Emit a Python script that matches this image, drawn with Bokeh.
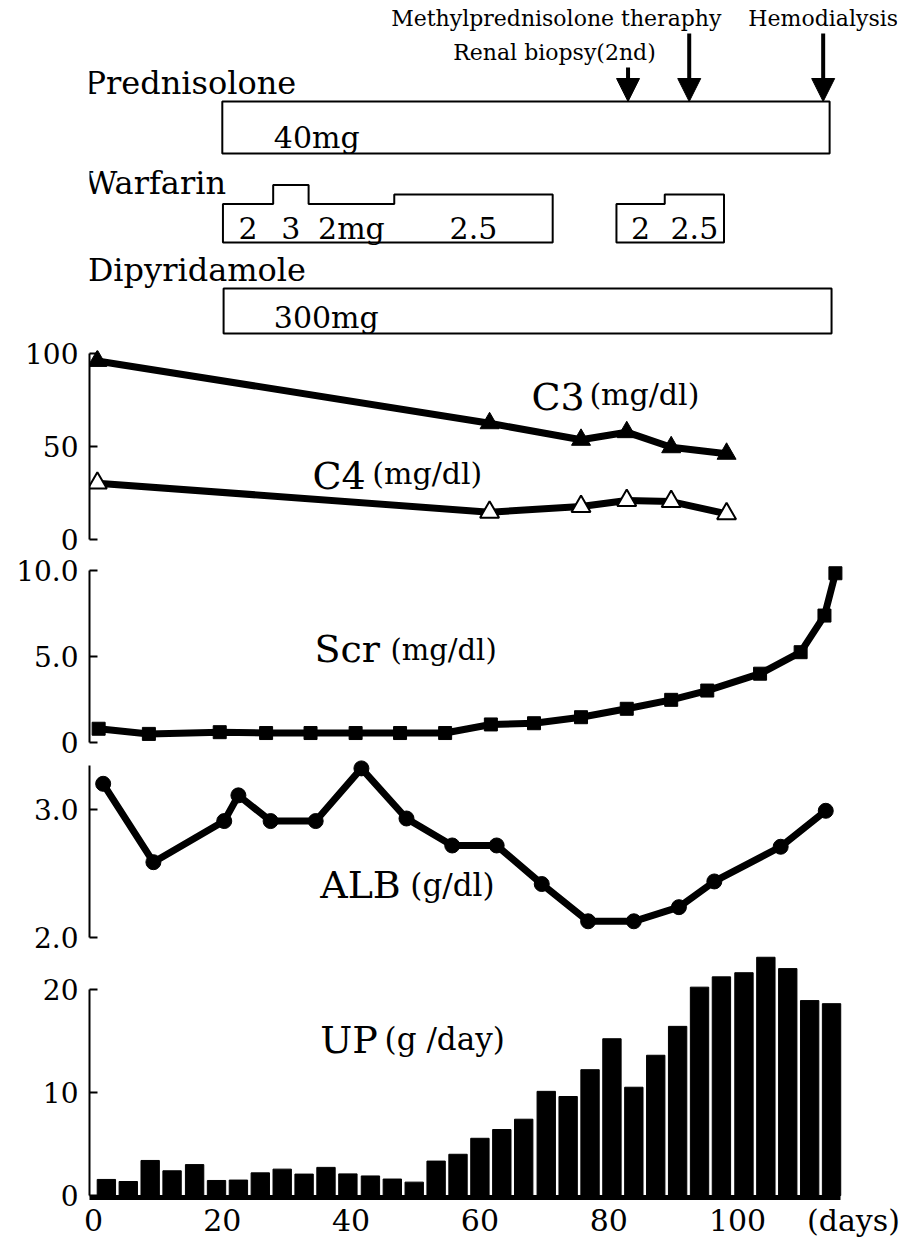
from bokeh.plotting import figure
from bokeh.layouts import column
from bokeh.models import Range1d, FixedTicker, ColumnDataSource, Arrow, NormalHead, Label
from bokeh.core.properties import value
from bokeh.embed import file_html
from bokeh.resources import INLINE

# ---------------- DATA (days since start) ----------------
pred_start, pred_end = 20.0, 114.3
dipy_start, dipy_end = 20.2, 114.6
pred_dose_label = "40mg"
dipy_dose_label = "300mg"

warf_start = [20.1, 27.9, 33.4, 46.7, 81.2, 88.7]
warf_end = [27.9, 33.4, 46.7, 71.3, 88.7, 97.9]
warf_dose = [2, 3, 2, 2.5, 2, 2.5]
warf_label = ["2", "3", "2mg", "2.5", "2", "2.5"]

event_names = ["Renal biopsy(2nd)", "Methylprednisolone theraphy", "Hemodialysis"]
event_days = [83.0, 92.5, 113.3]

comp_days = [0.6, 61.5, 75.7, 82.8, 89.7, 98.3]
c3 = [96.0, 62.5, 53.6, 57.7, 49.6, 46.1]
c4 = [30.3, 14.7, 17.7, 21.0, 20.4, 13.8]

scr_days = [0.8, 8.6, 19.6, 26.8, 33.7, 40.7, 47.6, 54.6, 61.7, 68.4, 75.7, 82.8,
            89.7, 95.3, 103.5, 109.8, 113.5, 115.2]
scr = [0.8, 0.5, 0.6, 0.55, 0.55, 0.55, 0.55, 0.55, 1.05, 1.12, 1.47, 1.96,
       2.48, 3.02, 4.0, 5.25, 7.38, 9.84]

alb_days = [1.5, 9.3, 20.3, 22.5, 27.5, 34.5, 41.6, 48.6, 55.7, 62.6, 69.6, 76.8,
            83.9, 90.9, 96.4, 106.7, 113.7]
alb = [3.20, 2.59, 2.91, 3.11, 2.91, 2.91, 3.32, 2.93, 2.72, 2.72, 2.42, 2.13,
       2.13, 2.24, 2.44, 2.71, 2.99]

up_days = [2.0, 5.4, 8.8, 12.2, 15.7, 19.1, 22.5, 25.9, 29.3, 32.7, 36.1, 39.5,
           43.0, 46.4, 49.8, 53.2, 56.6, 60.0, 63.4, 66.8, 70.3, 73.7, 77.1, 80.5,
           83.9, 87.3, 90.7, 94.1, 97.5, 101.0, 104.4, 107.8, 111.2, 114.6]
up = [1.56, 1.36, 3.4, 2.4, 3.0, 1.46, 1.5, 2.2, 2.56, 2.08, 2.73, 2.1,
      1.9, 1.6, 1.3, 3.34, 4.0, 5.55, 6.4, 7.4, 10.1, 9.6, 12.2, 15.2,
      10.5, 13.6, 16.4, 20.2, 21.2, 21.6, 23.1, 22.0, 18.9, 18.6]

x_ticks = [0, 20, 40, 60, 80, 100]
days_label_pos = 118

# ---------------- LAYOUT ----------------
FONT_NAME = "DejaVu Serif"
FONT = value(FONT_NAME)
W = 903
BL, BR = 89, 6
X_START, X_END = -0.621, 124.84
xr = Range1d(X_START, X_END)


def fig(height, y_range, mbt, mbb, x_axis=None, y_axis="left"):
    p = figure(width=W, height=height, x_range=xr, y_range=y_range,
               output_backend="svg", toolbar_location=None,
               x_axis_location=x_axis, y_axis_location=y_axis,
               min_border_left=BL, min_border_right=BR,
               min_border_top=mbt, min_border_bottom=mbb,
               background_fill_color="white", border_fill_color="white",
               outline_line_color=None)
    p.xgrid.visible = False
    p.ygrid.visible = False
    return p


def style_y(p, ticks, bounds, overrides=None):
    ax = p.yaxis[0]
    ax.ticker = FixedTicker(ticks=ticks, minor_ticks=[])
    ax.bounds = bounds
    ax.axis_line_width = 2
    ax.axis_line_color = "black"
    ax.major_tick_line_width = 2
    ax.major_tick_in = 8
    ax.major_tick_out = 0
    ax.minor_tick_in = 0
    ax.minor_tick_out = 0
    ax.major_label_standoff = 11
    ax.major_label_text_font = FONT_NAME
    ax.major_label_text_font_size = "28px"
    ax.major_label_text_color = "black"
    if overrides:
        ax.major_label_overrides = overrides


def text(p, x, y, txt, size, align="left"):
    p.text(x=[x], y=[y], text=[txt], text_font=FONT, text_font_size=size,
           text_align=align, text_baseline="middle", text_color="black")


def note(p, x, y, txt, size, align="left"):
    p.add_layout(Label(x=x, y=y, text=txt, text_font=FONT_NAME, text_font_size=size,
                       text_align=align, text_baseline="middle", text_color="black"))


# ---------------- TIMELINE ----------------
TL_H = 336
pt = fig(TL_H, Range1d(TL_H, 0), 0, 0, x_axis=None, y_axis=None)

EV_MID = [51.5, 17.5, 17.5]
EV_OFF = [4.3, 5.0, 0.0]
EV_ALIGN = ["right", "right", "center"]
PRED_TOP, PRED_BOT = 101, 153
WARF_BOT, WARF_K, WARF_C = 242, 19.0, 0.5
DIPY_TOP, DIPY_BOT = 288, 333
NAME_X = -1.4

for name, d, m, off, al in zip(event_names, event_days, EV_MID, EV_OFF, EV_ALIGN):
    note(pt, d + off, m, name, "22px", al)
arrow_src = ColumnDataSource(dict(x=event_days, y0=[m + 15.5 for m in EV_MID],
                                  y1=[PRED_TOP] * len(event_days)))
pt.add_layout(Arrow(end=NormalHead(size=23, fill_color="black", line_color="black",
                                   line_width=1),
                    x_start="x", y_start="y0", x_end="x", y_end="y1",
                    line_width=4, line_color="black", source=arrow_src))

note(pt, NAME_X, 82, "Prednisolone", "32px")
pt.quad(left=[pred_start], right=[pred_end], top=[PRED_TOP], bottom=[PRED_BOT],
        fill_color=None, line_color="black", line_width=2)
text(pt, pred_start + 8.0, 136.5, pred_dose_label, "30px")

note(pt, NAME_X, 182, "Warfarin", "32px")
blocks = []
for s, e, d in zip(warf_start, warf_end, warf_dose):
    if blocks and abs(blocks[-1][-1][1] - s) < 1e-9:
        blocks[-1].append((s, e, d))
    else:
        blocks.append([(s, e, d)])
wxs, wys = [], []
for b in blocks:
    xs, ys = [b[0][0]], [WARF_BOT]
    for s, e, d in b:
        top = WARF_BOT - (WARF_K * d + WARF_C)
        xs += [s, e]
        ys += [top, top]
    xs.append(b[-1][1])
    ys.append(WARF_BOT)
    wxs.append(xs)
    wys.append(ys)
pt.patches(xs=wxs, ys=wys, fill_color=None, line_color="black", line_width=2)
pt.text(x=[(s + e) / 2 for s, e in zip(warf_start, warf_end)], y=[227.5] * len(warf_label),
        text=warf_label, text_font=FONT, text_font_size="30px", text_align="center",
        text_baseline="middle", text_color="black")

note(pt, NAME_X + 0.5, 269, "Dipyridamole", "32px")
pt.quad(left=[dipy_start], right=[dipy_end], top=[DIPY_TOP], bottom=[DIPY_BOT],
        fill_color=None, line_color="black", line_width=2)
text(pt, dipy_start + 7.8, 317, dipy_dose_label, "30px")

# ---------------- C3 / C4 ----------------
p1 = fig(220, Range1d(-3.226, 101.61), 14, 11)
style_y(p1, [0, 50, 100], (0, 100))
p1.line(comp_days, c3, line_width=7, line_color="black")
p1.scatter(comp_days, c3, marker="triangle", size=19, fill_color="black", line_color="black")
p1.line(comp_days, c4, line_width=7, line_color="black")
p1.scatter(comp_days, c4, marker="triangle", size=19, fill_color="white",
           line_color="black", line_width=2)
text(p1, 68.0, 76.6, "C3", "38px")
text(p1, 77.0, 78.2, "(mg/dl)", "30px")
text(p1, 34.0, 34.1, "C4", "38px")
text(p1, 43.3, 35.7, "(mg/dl)", "30px")

# ---------------- Scr ----------------
p2 = fig(203, Range1d(-0.349, 10.814), 0, 11)
style_y(p2, [0, 5, 10], (0, 10), {0: "0", 5: "5.0", 10: "10.0"})
p2.line(scr_days, scr, line_width=7, line_color="black")
p2.scatter(scr_days, scr, marker="square", size=13, fill_color="black", line_color="black")
text(p2, 34.3, 5.41, "Scr", "38px")
text(p2, 46.1, 5.35, "(mg/dl)", "29px")

# ---------------- ALB ----------------
p3 = fig(196, Range1d(1.9494, 3.3891), 0, 11)
style_y(p3, [2, 3], (2.0, 3.34), {2: "2.0", 3: "3.0"})
p3.line(alb_days, alb, line_width=7, line_color="black")
p3.scatter(alb_days, alb, marker="circle", size=15, fill_color="black", line_color="black")
text(p3, 35.2, 2.409, "ALB", "38px")
text(p3, 49.2, 2.409, "(g/dl)", "31px")

# ---------------- UP ----------------
p4 = fig(285, Range1d(-0.19, 23.27), 0, 41, x_axis="below")
style_y(p4, [0, 10, 20], (0, 20))
p4.vbar(x=up_days, top=up, bottom=0, width=2.85, fill_color="black", line_color="black")
text(p4, 35.2, 15.1, "UP", "38px")
text(p4, 45.2, 15.2, "(g /day)", "31px")
xa = p4.xaxis[0]
xa.ticker = FixedTicker(ticks=x_ticks + [days_label_pos], minor_ticks=[])
xa.major_label_overrides = {days_label_pos: "(days)"}
xa.bounds = (-0.6, 116.0)
xa.axis_line_width = 5
xa.axis_line_color = "black"
xa.major_tick_in = 0
xa.major_tick_out = 0
xa.minor_tick_in = 0
xa.minor_tick_out = 0
xa.major_label_standoff = 5
xa.major_label_text_font = FONT_NAME
xa.major_label_text_font_size = "30px"
xa.major_label_text_color = "black"

layout = column(pt, p1, p2, p3, p4, spacing=0)
open("out.html", "w").write(file_html(layout, INLINE))
